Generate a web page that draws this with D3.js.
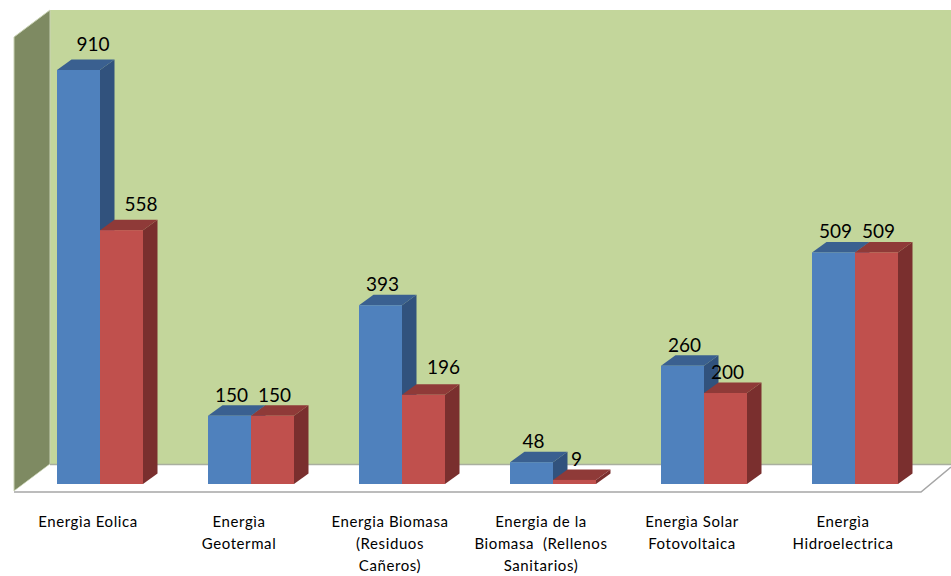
<!DOCTYPE html>
<html>
<head>
<meta charset="utf-8">
<script src="https://cdnjs.cloudflare.com/ajax/libs/d3/7.8.5/d3.min.js"></script>
<style>
  html, body { margin: 0; padding: 0; background: #fff; }
  text { font-family: Lato, "Open Sans", sans-serif; fill: #000; }
</style>
</head>
<body>
<div id="chart"></div>
<script>
var categories = ["Eolica", "Geotermal", "Biomasa", "Rellenos", "Solar", "Hidro"];
var categoryLines = [
  ["Energìa Eolica"],
  ["Energìa", "Geotermal"],
  ["Energia Biomasa", "(Residuos", "Cañeros)"],
  ["Energia de la", "Biomasa  (Rellenos", "Sanitarios)"],
  ["Energìa Solar", "Fotovoltaica"],
  ["Energìa", "Hidroelectrica"]
];
var seriesA = [910, 150, 393, 48, 260, 509];
var seriesB = [558, 150, 196, 9, 200, 509];

var width = 951, height = 576;

// how far the 3d boxes go back
var depthX = 14.5, depthY = -10.5;

var palettes = [
  { front: "#4F81BD", side: "#31527D", top: "#3A6090" },
  { front: "#C0504D", side: "#7A2F2E", top: "#8F3A38" }
];

var svg = d3.select("#chart").append("svg")
    .attr("width", width)
    .attr("height", height)
    .style("display", "block");

var x = d3.scaleBand()
    .domain(categories)
    .range([57, 898])
    .paddingInner(65 / 151)
    .paddingOuter(0);

var xInner = d3.scaleBand()
    .domain([0, 1])
    .range([0, x.bandwidth()]);

var y = d3.scaleLinear()
    .domain([0, 910])
    .range([484, 70]);

function pts(list) {
  return list.map(function(p) { return p.join(","); }).join(" ");
}

// walls and floor
svg.append("polygon")
    .attr("points", pts([[50, 10], [951, 10], [951, 464], [50, 464]]))
    .attr("fill", "#C3D69B");

svg.append("polygon")
    .attr("points", pts([[14, 37], [50, 10], [50, 464], [14, 491]]))
    .attr("fill", "#7E8A62")
    .attr("stroke", "#C9D2B4")
    .attr("stroke-width", 1);

svg.append("polygon")
    .attr("points", pts([[14, 491.5], [50, 464.5], [951, 464.5], [951, 467], [921, 491.5]]))
    .attr("fill", "#fff");

svg.append("line")
    .attr("x1", 50).attr("y1", 464.5).attr("x2", 951).attr("y2", 464.5)
    .attr("stroke", "#A9AF9F").attr("stroke-width", 1.5);

svg.append("polyline")
    .attr("points", pts([[14, 492], [921, 492], [951, 467]]))
    .attr("fill", "none")
    .attr("stroke", "#A6A6A6")
    .attr("stroke-width", 1.5);

// bars, one list per series
var bars = [];
categories.forEach(function(c, i) {
  [seriesA, seriesB].forEach(function(s, k) {
    bars.push({ cat: c, index: i, series: k, value: s[i] });
  });
});

var bar = svg.selectAll(".bar")
    .data(bars)
    .enter().append("g")
      .attr("class", "bar");

bar.append("polygon")
    .attr("fill", function(d) { return palettes[d.series].side; })
    .attr("points", function(d) {
      var r = x(d.cat) + xInner(d.series) + xInner.bandwidth();
      return pts([[r, y(d.value)], [r + depthX, y(d.value) + depthY], [r + depthX, y(0) + depthY], [r, y(0)]]);
    });

bar.append("polygon")
    .attr("fill", function(d) { return palettes[d.series].top; })
    .attr("points", function(d) {
      var l = x(d.cat) + xInner(d.series);
      var r = l + xInner.bandwidth();
      var t = y(d.value);
      return pts([[l, t], [l + depthX, t + depthY], [r + depthX, t + depthY], [r, t]]);
    });

bar.append("rect")
    .attr("x", function(d) { return x(d.cat) + xInner(d.series); })
    .attr("y", function(d) { return y(d.value); })
    .attr("width", xInner.bandwidth())
    .attr("height", function(d) { return y(0) - y(d.value); })
    .attr("fill", function(d) { return palettes[d.series].front; });

// most labels sit just above the box, a few were moved aside in the original
function labelShift(d) {
  if (d.index == 0) { return d.series == 0 ? [14.5, -26.5] : [19.5, -26.5]; }
  if (d.index == 2 && d.series == 1) { return [20, -28.5]; }
  return [2, -21.5];
}

svg.selectAll(".value")
    .data(bars)
    .enter().append("text")
      .attr("class", "value")
      .attr("text-anchor", "middle")
      .attr("dominant-baseline", "central")
      .style("font-size", "19px")
      .attr("x", function(d) { return x(d.cat) + xInner(d.series) + xInner.bandwidth() / 2 + labelShift(d)[0]; })
      .attr("y", function(d) { return y(d.value) + labelShift(d)[1]; })
      .text(function(d) { return d.value; });

// category labels
var catLabel = svg.selectAll(".cat")
    .data(categories)
    .enter().append("text")
      .attr("class", "cat")
      .attr("text-anchor", "middle")
      .style("font-size", "15px")
      .style("letter-spacing", "0.6px")
      .style("white-space", "pre");

catLabel.selectAll("tspan")
    .data(function(d, i) {
      return categoryLines[i].map(function(t, n) { return { text: t, n: n, cat: d }; });
    })
    .enter().append("tspan")
      .attr("x", function(d) { return x(d.cat) + x.bandwidth() / 2 - 12; })
      .attr("y", function(d) { return 527 + d.n * 22; })
      .text(function(d) { return d.text; });
</script>
</body>
</html>
